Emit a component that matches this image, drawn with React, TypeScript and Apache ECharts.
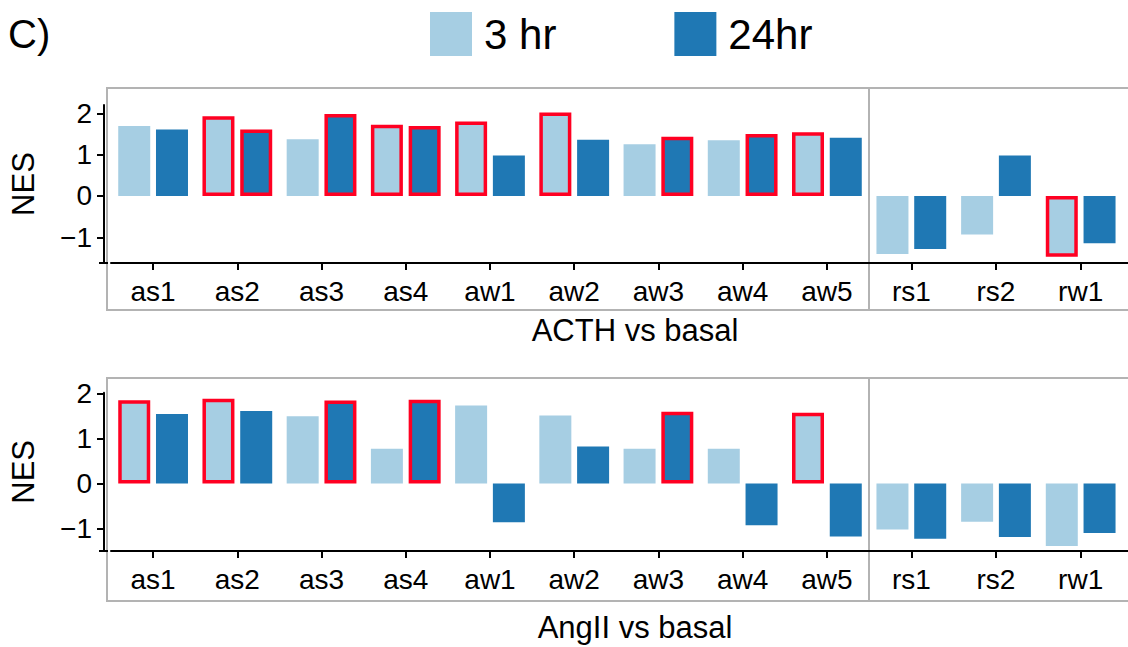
import React, { useEffect, useRef } from "react";
import * as echarts from "echarts";

const leftCats = ["as1", "as2", "as3", "as4", "aw1", "aw2", "aw3", "aw4", "aw5"];
const rightCats = ["rs1", "rs2", "rw1"];
const yTicks = [-1, 0, 1, 2];
const seriesNames = ["3 hr", "24hr"];
const panelTitles = ["ACTH vs basal", "AngII vs basal"];

// order: as1..aw5, rs1, rs2, rw1
const acth3hr = [1.69, 1.93, 1.37, 1.72, 1.80, 2.02, 1.25, 1.35, 1.54, -1.40, -0.93, -1.47];
const acth24hr = [1.61, 1.61, 1.98, 1.69, 0.98, 1.36, 1.43, 1.50, 1.41, -1.28, 0.98, -1.14];
const acth3hrSig = [0, 1, 0, 1, 1, 1, 0, 0, 1, 0, 0, 1];
const acth24hrSig = [0, 1, 1, 1, 0, 0, 1, 1, 0, 0, 0, 0];

const angii3hr = [1.85, 1.88, 1.49, 0.77, 1.73, 1.51, 0.77, 0.77, 1.57, -1.02, -0.85, -1.39];
const angii24hr = [1.54, 1.61, 1.84, 1.86, -0.86, 0.82, 1.59, -0.93, -1.18, -1.23, -1.19, -1.10];
const angii3hrSig = [1, 1, 0, 0, 0, 0, 0, 0, 1, 0, 0, 0];
const angii24hrSig = [0, 0, 1, 1, 0, 0, 1, 0, 0, 0, 0, 0];

const FONT = "'Liberation Sans', Arial, Helvetica, sans-serif";
const LIGHT = "#a6cee3";
const DARK = "#1f78b4";
const RED = "#ff0022";
const BOXGRAY = "#b3b3b3";

function items(vals: number[], sig: number[], from: number, to: number) {
  return vals.slice(from, to).map((v, i) =>
    sig[from + i]
      ? { value: v, itemStyle: { borderColor: RED, borderWidth: 3.5 } }
      : { value: v }
  );
}

export default function App() {
  const ref = useRef<HTMLDivElement>(null);
  useEffect(() => {
    if (!ref.current) return;
    const chart = echarts.init(ref.current, null, { renderer: "svg" });

    const panels = [
      { top: 105, height: 158, min: -1.62, max: 2.2, v3: acth3hr, v24: acth24hr, s3: acth3hrSig, s24: acth24hrSig },
      { top: 392.7, height: 158.3, min: -1.5, max: 2.015, v3: angii3hr, v24: angii24hr, s3: angii3hrSig, s24: angii24hrSig },
    ];

    const grids: any[] = [];
    const xAxes: any[] = [];
    const yAxes: any[] = [];
    const series: any[] = [];

    panels.forEach((p) => {
      const facets = [
        { left: 107, width: 762, cats: leftCats, from: 0, to: 9, showY: true },
        { left: 869, width: 254, cats: rightCats, from: 9, to: 12, showY: false },
      ];
      facets.forEach((f) => {
        const gi = grids.length;
        grids.push({ left: f.left, top: p.top, width: f.width, height: p.height, containLabel: false });
        xAxes.push({
          type: "category",
          gridIndex: gi,
          data: f.cats,
          position: "bottom",
          axisLine: { show: true, onZero: false, lineStyle: { color: "#000", width: 2 } },
          axisTick: { show: true, alignWithLabel: true, length: 7, lineStyle: { color: "#000", width: 2 } },
          axisLabel: { color: "#000", fontSize: 28, fontFamily: FONT, margin: 14 },
          splitLine: { show: false },
        });
        yAxes.push({
          type: "value",
          gridIndex: gi,
          min: p.min,
          max: p.max,
          show: f.showY,
          offset: 7,
          name: f.showY ? "NES" : "",
          nameLocation: "middle",
          nameRotate: 90,
          nameGap: 65,
          nameTextStyle: { color: "#000", fontSize: 31, fontFamily: FONT },
          axisLine: { show: true, lineStyle: { color: "#000", width: 2 } },
          axisTick: { show: true, length: 7, customValues: yTicks, lineStyle: { color: "#000", width: 2 } },
          axisLabel: {
            color: "#000",
            fontSize: 28,
            fontFamily: FONT,
            margin: 12,
            customValues: yTicks,
            formatter: (v: number) => (v < 0 ? "\u2212" + Math.abs(v) : String(v)),
          },
          splitLine: { show: false },
        });
        series.push({
          name: seriesNames[0],
          type: "bar",
          xAxisIndex: gi,
          yAxisIndex: gi,
          barWidth: 32,
          barGap: "18%",
          itemStyle: { color: LIGHT },
          data: items(p.v3, p.s3, f.from, f.to),
        });
        series.push({
          name: seriesNames[1],
          type: "bar",
          xAxisIndex: gi,
          yAxisIndex: gi,
          barWidth: 32,
          barGap: "18%",
          itemStyle: { color: DARK },
          data: items(p.v24, p.s24, f.from, f.to),
        });
      });
    });

    const boxes = [
      { y: 88, h: 222, axisY: 263, titleY: 330, title: panelTitles[0] },
      { y: 378, h: 223, axisY: 551, titleY: 627, title: panelTitles[1] },
    ];
    const graphic: any[] = [
      {
        type: "text",
        left: 8,
        top: 14,
        style: { text: "C)", fontSize: 40, fontFamily: FONT, fill: "#000" },
      },
    ];
    boxes.forEach((b) => {
      graphic.push({
        type: "rect",
        shape: { x: 107, y: b.y, width: 1040, height: b.h },
        style: { fill: "none", stroke: BOXGRAY, lineWidth: 2 },
        z: 0,
      });
      graphic.push({
        type: "line",
        shape: { x1: 869, y1: b.y, x2: 869, y2: b.y + b.h },
        style: { stroke: BOXGRAY, lineWidth: 2 },
        z: 0,
      });
      graphic.push({
        type: "line",
        shape: { x1: 99, y1: b.axisY, x2: 108, y2: b.axisY },
        style: { stroke: "#000", lineWidth: 2 },
        z: 5,
      });
      graphic.push({
        type: "line",
        shape: { x1: 1122, y1: b.axisY, x2: 1130, y2: b.axisY },
        style: { stroke: "#000", lineWidth: 2 },
        z: 5,
      });
      graphic.push({
        type: "text",
        x: 635,
        y: b.titleY,
        style: {
          text: b.title,
          fontSize: 31,
          fontFamily: FONT,
          fill: "#000",
          align: "center",
          verticalAlign: "middle",
        },
      });
    });

    chart.setOption({
      animation: false,
      backgroundColor: "#fff",
      legend: {
        show: true,
        data: seriesNames,
        left: 430,
        top: 12,
        padding: 0,
        itemWidth: 42,
        itemHeight: 44,
        itemGap: 118,
        icon: "rect",
        textStyle: { fontSize: 42, fontFamily: FONT, color: "#000", padding: [0, 0, 0, 7] },
      },
      grid: grids,
      xAxis: xAxes,
      yAxis: yAxes,
      series,
      graphic,
    });
    return () => chart.dispose();
  }, []);
  return <div ref={ref} style={{ width: 1128, height: 647, position: "absolute", left: 0, top: 0 }} />;
}
